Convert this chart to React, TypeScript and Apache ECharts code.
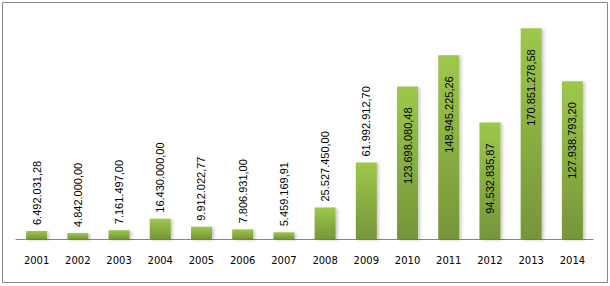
import React, { useEffect, useRef } from "react";
import * as echarts from "echarts";

const years = ["2001","2002","2003","2004","2005","2006","2007","2008","2009","2010","2011","2012","2013","2014"];
const values = [6492031.28, 4842000.0, 7161497.0, 16430000.0, 9912022.77, 7806931.0, 5459169.91, 25527450.0, 61992912.7, 123698080.48, 148945225.26, 94532835.87, 170851278.58, 127938793.2];
const insideThreshold = 80000000;

function fmt(v: number): string {
  const fixed = v.toFixed(2);
  const [intPart, dec] = fixed.split(".");
  const withDots = intPart.replace(/\B(?=(\d{3})+(?!\d))/g, ".");
  return withDots + "," + dec;
}

export default function App() {
  const ref = useRef<HTMLDivElement>(null);
  useEffect(() => {
    if (!ref.current) return;
    const chart = echarts.init(ref.current, null, { renderer: "svg" });
    const data = values.map((v) => {
      const inside = v > insideThreshold;
      return {
        value: v,
        label: inside
          ? { position: "insideTop", distance: 21, align: "right", verticalAlign: "middle" }
          : { position: "top", distance: 6, align: "left", verticalAlign: "middle" },
      };
    });
    chart.setOption({
      animation: false,
      backgroundColor: "#ffffff",
      grid: { left: 16, right: 17, top: 17, bottom: 47, containLabel: false },
      graphic: [
        {
          type: "rect",
          shape: { x: 2.5, y: 2.5, width: 605, height: 280 },
          style: { fill: "none", stroke: "#888888", lineWidth: 1 },
          silent: true,
        },
      ],
      xAxis: {
        type: "category",
        data: years,
        axisLine: { lineStyle: { color: "#868686", width: 1 } },
        axisTick: { show: false },
        axisLabel: { color: "#000000", fontFamily: "DejaVu Sans", fontSize: 10, margin: 16 },
      },
      yAxis: {
        type: "value",
        min: 0,
        max: 180000000,
        show: false,
        splitLine: { show: false },
      },
      series: [
        {
          type: "bar",
          data,
          barWidth: 21,
          itemStyle: {
            color: new echarts.graphic.LinearGradient(0, 0, 0, 1, [
              { offset: 0, color: "#9dc84a" },
              { offset: 1, color: "#76953a" },
            ]),
            shadowColor: "rgba(0,0,0,0.22)",
            shadowBlur: 3,
            shadowOffsetX: 2,
            shadowOffsetY: 1,
          },
          label: {
            show: true,
            rotate: 90,
            color: "#000000",
            fontFamily: "Liberation Sans",
            fontSize: 11,
            formatter: (p: any) => fmt(p.value),
          },
        },
      ],
    });
    return () => chart.dispose();
  }, []);
  return (
    <div
      ref={ref}
      style={{ position: "fixed", left: 0, top: 0, width: 610, height: 286, background: "#fff" }}
    />
  );
}
